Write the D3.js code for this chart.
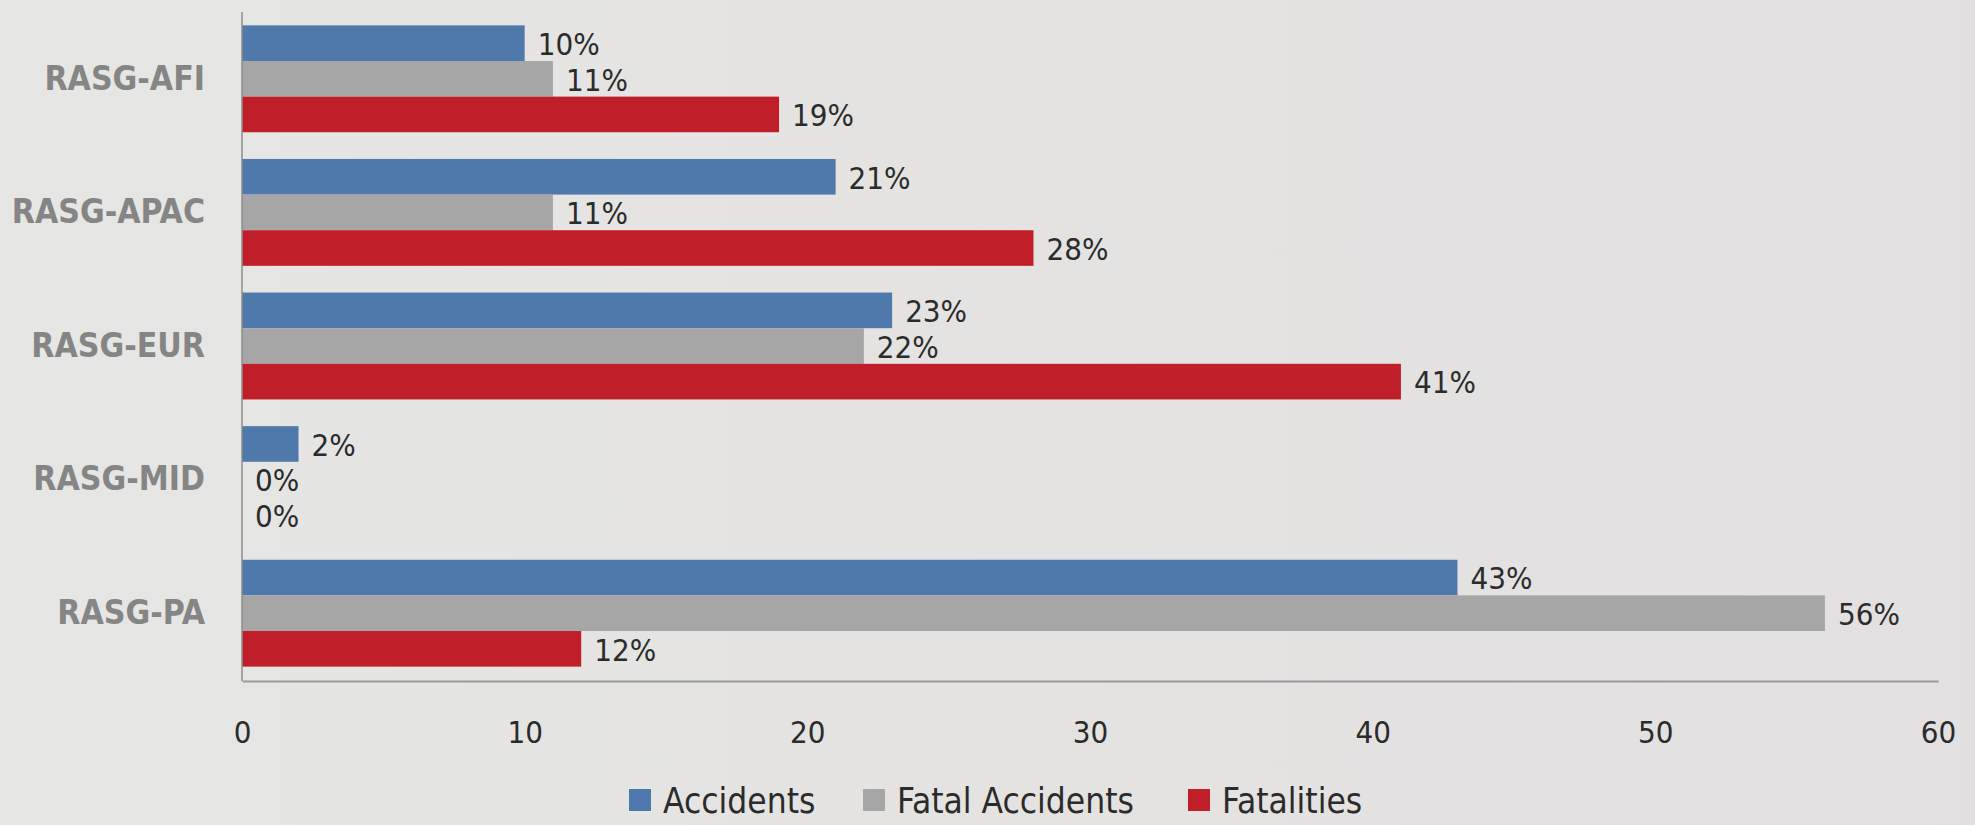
<!DOCTYPE html>
<html>
<head>
<meta charset="utf-8">
<script src="https://cdn.jsdelivr.net/npm/d3@7/dist/d3.min.js"></script>
<style>
  html, body { margin: 0; padding: 0; background: #e3e3e1; }
  svg { display: block; }
</style>
</head>
<body>
<svg id="chart" width="1975" height="825"></svg>
<script>
const categories = ["RASG-AFI", "RASG-APAC", "RASG-EUR", "RASG-MID", "RASG-PA"];
const seriesNames = ["Accidents", "Fatal Accidents", "Fatalities"];
const accidents = [10, 21, 23, 2, 43];
const fatalAccidents = [11, 11, 22, 0, 56];
const fatalities = [19, 28, 41, 0, 12];
const xTicks = [0, 10, 20, 30, 40, 50, 60];
const colors = ["#4f79aa", "#a6a6a6", "#c01f2a"];

const seriesValues = [accidents, fatalAccidents, fatalities];
const font = "'Liberation Sans Narrow', 'DejaVu Sans Condensed', sans-serif";

const svg = d3.select("#chart");
const W = 1975, H = 825;

// background
const defs = svg.append("defs");
const bg = defs.append("linearGradient").attr("id", "bg").attr("x1", 0).attr("x2", 1).attr("y1", 0).attr("y2", 0);
bg.append("stop").attr("offset", "0%").attr("stop-color", "#e6e6e4");
bg.append("stop").attr("offset", "100%").attr("stop-color", "#e2e0e0");
svg.append("rect").attr("width", W).attr("height", H).attr("fill", "url(#bg)");

const x = d3.scaleLinear().domain([0, 60]).range([242, 1938]);
const y = d3.scaleBand().domain(categories).range([12, 680]).paddingInner(0.2).paddingOuter(0.1);
const ySub = d3.scaleBand().domain(seriesNames).range([0, y.bandwidth()]);

// bars
const groups = svg.append("g").selectAll("g")
  .data(categories)
  .join("g")
  .attr("transform", d => `translate(0,${y(d)})`);

seriesNames.forEach((s, si) => {
  groups.append("rect")
    .attr("x", x(0))
    .attr("y", ySub(s))
    .attr("width", (d, i) => x(seriesValues[si][i]) - x(0))
    .attr("height", ySub.bandwidth())
    .attr("fill", colors[si]);
  groups.append("text")
    .attr("x", (d, i) => x(seriesValues[si][i]) + 13)
    .attr("y", ySub(s) + ySub.bandwidth() / 2)
    .attr("dy", "0.38em")
    .attr("font-family", font)
    .attr("font-size", 31)
    .attr("fill", "#2b2b2b")
    .text((d, i) => seriesValues[si][i] + "%");
});

// y axis
const yAxis = svg.append("g")
  .attr("transform", `translate(${x(0)},0)`)
  .call(d3.axisLeft(y).tickSize(0).tickPadding(37));
yAxis.select(".domain").attr("stroke", "#8c8c8c").attr("stroke-width", 1.5).attr("d", `M0,12V681`);
yAxis.selectAll("text")
  .attr("font-family", font)
  .attr("font-size", 33.5)
  .attr("font-weight", "bold")
  .attr("fill", "#858585");

// x axis
const xAxis = svg.append("g")
  .attr("transform", `translate(0,681)`)
  .call(d3.axisBottom(x).tickValues(xTicks).tickSize(0).tickPadding(40));
xAxis.select(".domain").attr("stroke", "#9a9a9a").attr("stroke-width", 2);
xAxis.selectAll("text")
  .attr("font-family", font)
  .attr("font-size", 31)
  .attr("fill", "#2b2b2b");

// legend
const legendX = [629, 863, 1188];
const legend = svg.append("g").selectAll("g")
  .data(seriesNames)
  .join("g")
  .attr("transform", (d, i) => `translate(${legendX[i]},800)`);
legend.append("rect")
  .attr("x", 0).attr("y", -11).attr("width", 22).attr("height", 22)
  .attr("fill", (d, i) => colors[i]);
legend.append("text")
  .attr("x", 34).attr("y", 0).attr("dy", "0.36em")
  .attr("font-family", font)
  .attr("font-size", 35)
  .attr("fill", "#2b2b2b")
  .text(d => d);
</script>
</body>
</html>
